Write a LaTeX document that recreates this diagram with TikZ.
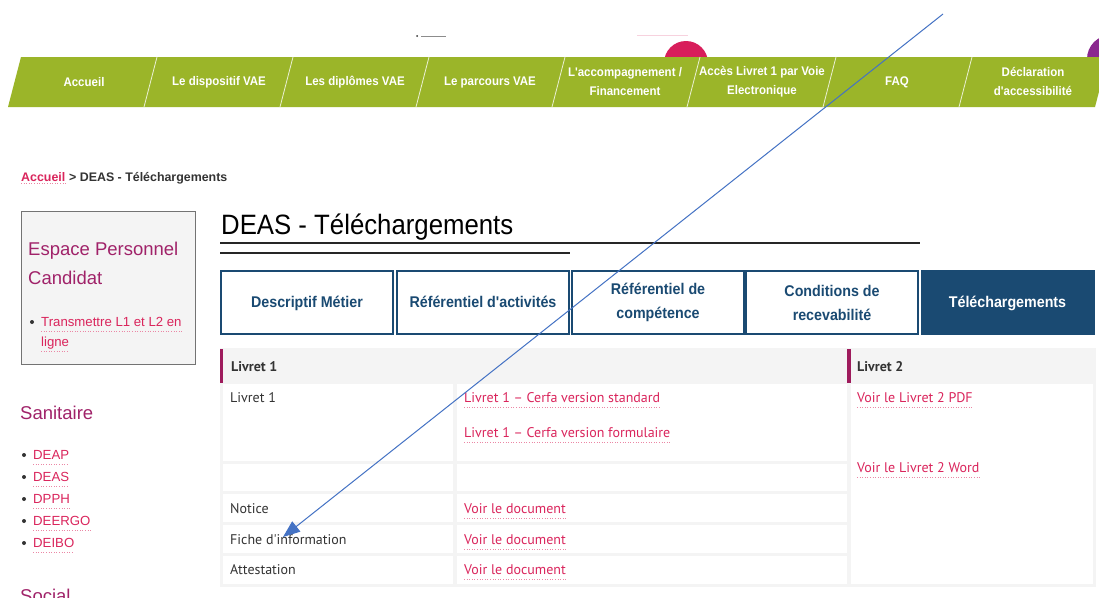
\documentclass[tikz,border=0pt]{standalone}
\usepackage{fontspec}
\setmainfont{Liberation Sans}
\newfontfamily\navfont[FakeStretch=0.92]{Liberation Sans}
\newfontfamily\tabfont{PT Sans}
\usetikzlibrary{arrows.meta}
\definecolor{navgreen}{RGB}{155, 181, 41}
\definecolor{navy}{RGB}{26, 74, 114}
\definecolor{linkpink}{RGB}{218, 37, 92}
\definecolor{plum}{RGB}{160, 34, 105}
\definecolor{barplum}{RGB}{158, 27, 92}
\definecolor{panel}{RGB}{244, 244, 244}
\definecolor{ink}{RGB}{51, 51, 51}
\definecolor{arrowblue}{RGB}{68, 114, 196}
\definecolor{dotpink}{RGB}{216, 30, 91}
\definecolor{dotpurple}{RGB}{139, 40, 143}

\begin{document}
\begin{tikzpicture}[x=1pt, y=-1pt,
  navlabel/.style={text=white, align=center, inner sep=0pt,
    font={\navfont\bfseries\fontsize{12.5pt}{19pt}\selectfont}},
  tabbox/.style={draw=navy, line width=2pt, minimum width=172pt, minimum height=63pt,
    inner sep=0pt, text=navy, align=center,
    font={\navfont\bfseries\fontsize{15.5pt}{24pt}\selectfont}},
  celltext/.style={anchor=base west, inner sep=0pt, text=ink,
    font={\tabfont\fontsize{14pt}{16pt}\selectfont}},
  linkline/.style={draw=linkpink!55, dotted, line width=0.6pt},
  weblink/.style={celltext, text=linkpink,
    append after command={([yshift=-5pt]\tikzlastnode.base west) edge[linkline] ([yshift=-5pt]\tikzlastnode.base east)}},
  sidelink/.style={weblink, font={\fontsize{13.2pt}{16pt}\selectfont}},
  heading/.style={anchor=base west, inner sep=0pt, text=plum,
    font={\fontsize{18.5pt}{22pt}\selectfont}},
  arrowline/.style={draw=arrowblue, line width=1pt, -{Triangle[length=17pt, width=13pt]}}]

  \useasboundingbox (0, 0) rectangle (1099, 597);
  \fill[white] (0, 0) rectangle (1099, 597);

  % logo leftovers above the menu
  \fill[ink] (417, 36) circle (1pt);
  \draw[black!45, line width=1pt] (421, 36) -- (446, 36);
  \draw[dotpink!20, line width=1pt] (637, 35) -- (688, 35);
  \fill[dotpink] (686, 63) circle (22pt);
  \fill[dotpurple] (1111, 59) circle (24pt);

  % menu
  \fill[navgreen] (21, 57) -- (1108, 57) -- (1095, 107) -- (8, 107) -- cycle;
  \foreach \s in {157, 293, 429, 565, 700, 836, 972} {
    \draw[white!80!navgreen, line width=0.8pt] (\s, 57) -- (\s - 13, 107);
  }
  \node[navlabel] (accueil) at (84, 82) {Accueil};
  \node[navlabel] (dispositif) at (219, 82) {Le dispositif VAE};
  \node[navlabel] (diplomes) at (355, 82) {Les diplômes VAE};
  \node[navlabel] (parcours) at (490, 82) {Le parcours VAE};
  \node[navlabel] (accompagnement) at (625, 81.5) {L'accompagnement /\\Financement};
  \node[navlabel] (livretun) at (762, 81.5) {Accès Livret 1 par Voie\\Electronique};
  \node[navlabel] (faq) at (897, 82) {FAQ};
  \node[navlabel] (declaration) at (1033, 81.5) {Déclaration\\d'accessibilité};

  % breadcrumb
  \node[anchor=base west, inner sep=0pt, text=linkpink, font={\bfseries\fontsize{12.4pt}{15pt}\selectfont},
    append after command={([yshift=-2.5pt]\tikzlastnode.base west) edge[linkline] ([yshift=-2.5pt]\tikzlastnode.base east)}]
    (crumbhome) at (21, 181) {Accueil};
  \node[anchor=base west, inner sep=0pt, text=ink, font={\bfseries\fontsize{12.4pt}{15pt}\selectfont}]
    (crumbpage) at (crumbhome.base east) {~> DEAS - Téléchargements};

  % side menu
  \draw[draw=black!55, fill=panel, line width=1pt] (21, 211) rectangle (195, 364);
  \node[heading] (espace) at (28, 255.5) {Espace Personnel};
  \node[heading] (candidat) at (28, 284.5) {Candidat};
  \fill[ink] (32, 322) circle (2pt);
  \node[sidelink, anchor=base west] (transmettre) at (41, 326.5) {Transmettre L1 et L2 en};
  \node[sidelink, anchor=base west] (ligne) at (41, 346.5) {ligne};

  \node[heading] (sanitaire) at (20, 419.5) {Sanitaire};
  \foreach \y/\d in {455/DEAP, 477/DEAS, 499/DPPH, 521/DEERGO, 543/DEIBO} {
    \fill[ink] (24, \y) circle (2pt);
    \node[sidelink, anchor=base west] (side\d) at (33, \y + 4.7) {\d};
  }
  \node[heading] (social) at (20, 602) {Social};

  % page title
  \node[anchor=base west, inner sep=0pt, font={\navfont\fontsize{28pt}{30pt}\selectfont}]
    (title) at (221, 234) {DEAS - Téléchargements};
  \draw[black!85, line width=1.5pt] (220, 243) -- (920, 243);
  \draw[black!85, line width=1.5pt] (220, 253) -- (570, 253);

  % tabs
  \node[tabbox] (tabmetier) at (307, 302.5) {Descriptif Métier\strut};
  \node[tabbox] (tabactivites) at (483, 302.5) {Référentiel d'activités\strut};
  \node[tabbox] (tabcompetence) at (658, 302.5) {Référentiel de\\compétence};
  \node[tabbox] (tabrecevabilite) at (832, 302.5) {Conditions de\\recevabilité};
  \node[tabbox, fill=navy, text=white] (tabtelechargements) at (1007.5, 302.5) {Téléchargements\strut};

  % table
  \fill[panel] (220, 348) rectangle (1096, 587);
  \fill[barplum] (220, 349) rectangle (223, 383);
  \fill[barplum] (847, 349) rectangle (851, 383);
  \foreach \top/\bot in {384/461, 464/491, 494/522, 525/553, 556/584} {
    \fill[white] (223, \top) rectangle (453, \bot);
    \fill[white] (457, \top) rectangle (847, \bot);
  }
  \fill[white] (851, 384) rectangle (1093, 584);

  \node[celltext, font={\tabfont\bfseries\fontsize{14pt}{16pt}\selectfont}] (headun) at (231, 371) {Livret 1};
  \node[celltext, font={\tabfont\bfseries\fontsize{14pt}{16pt}\selectfont}] (headdeux) at (857, 371) {Livret 2};

  \node[celltext] (livret) at (230, 402) {Livret 1};
  \node[weblink] (standard) at (464, 402) {Livret 1 – Cerfa version standard};
  \node[weblink] (formulaire) at (464, 437) {Livret 1 – Cerfa version formulaire};
  \node[celltext] (notice) at (230, 513) {Notice};
  \node[weblink] (voirnotice) at (464, 513) {Voir le document};
  \node[celltext] (fiche) at (230, 544) {Fiche d'information};
  \node[weblink] (voirfiche) at (464, 544) {Voir le document};
  \node[celltext] (attestation) at (230, 574) {Attestation};
  \node[weblink] (voirattestation) at (464, 574) {Voir le document};
  \node[weblink] (pdf) at (857, 402) {Voir le Livret 2 PDF};
  \node[weblink] (word) at (857, 472) {Voir le Livret 2 Word};

  % the pointer
  \coordinate (tail) at (943, 14);
  \coordinate (tip) at (283, 537);
  \draw[arrowline] (tail) -- (tip);

\end{tikzpicture}
\end{document}
